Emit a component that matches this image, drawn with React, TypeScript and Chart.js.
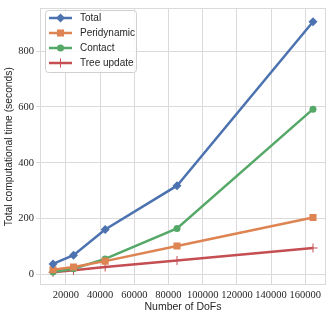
import React, { useEffect, useRef } from "react";
import { Chart, registerables } from "chart.js";

Chart.register(...registerables);

const dofs = [12500, 24500, 43000, 85000, 164500];
const totalTime = [38, 69, 161, 318, 905];
const peridynamicTime = [17, 27, 48, 102, 204];
const contactTime = [9, 21, 56, 165, 592];
const treeUpdateTime = [8, 15, 27, 50, 95];

const xTicks = [20000, 40000, 60000, 80000, 100000, 120000, 140000, 160000];
const yTicks = [0, 200, 400, 600, 800];

const seriesNames = ["Total", "Peridynamic", "Contact", "Tree update"];
const seriesColors = ["#4C72B0", "#DD8452", "#55A868", "#C44E52"];
const seriesMarkers = ["rectRot", "rect", "circle", "cross"];
const seriesRadius = [4.5, 5, 3.5, 4.5];

const xTitle = "Number of DoFs";
const yTitle = "Total computational time (seconds)";

const GRID = "#dadada";
const TEXT = "#262626";
const TICK_FONT = "'Liberation Serif', serif";
const SANS = "'Liberation Sans', sans-serif";

function drawMarker(ctx: CanvasRenderingContext2D, style: string, x: number, y: number, r: number, color: string) {
  ctx.save();
  ctx.fillStyle = color;
  ctx.strokeStyle = color;
  ctx.beginPath();
  if (style === "rectRot") {
    ctx.moveTo(x, y - r);
    ctx.lineTo(x + r, y);
    ctx.lineTo(x, y + r);
    ctx.lineTo(x - r, y);
    ctx.closePath();
    ctx.fill();
  } else if (style === "rect") {
    const s = r * Math.SQRT1_2;
    ctx.rect(x - s, y - s, 2 * s, 2 * s);
    ctx.fill();
  } else if (style === "circle") {
    ctx.arc(x, y, r, 0, Math.PI * 2);
    ctx.fill();
  } else {
    ctx.lineWidth = 1;
    ctx.moveTo(x - r, y);
    ctx.lineTo(x + r, y);
    ctx.moveTo(x, y - r);
    ctx.lineTo(x, y + r);
    ctx.stroke();
  }
  ctx.restore();
}

const framePlugin = {
  id: "frame",
  beforeDatasetsDraw(chart: any) {
    const { ctx, chartArea } = chart;
    const l = Math.round(chartArea.left) + 0.5;
    const t = Math.round(chartArea.top) + 0.5;
    const r = Math.round(chartArea.right) - 0.5;
    const b = Math.round(chartArea.bottom) - 0.5;
    ctx.save();
    ctx.strokeStyle = GRID;
    ctx.lineWidth = 1;
    ctx.strokeRect(l, t, r - l, b - t);
    ctx.restore();
  },
  afterDraw(chart: any) {
    const { ctx } = chart;
    const bx = 45.5, by = 10.5, bw = 91, bh = 62, rad = 3;
    ctx.save();
    ctx.beginPath();
    ctx.moveTo(bx + rad, by);
    ctx.lineTo(bx + bw - rad, by);
    ctx.quadraticCurveTo(bx + bw, by, bx + bw, by + rad);
    ctx.lineTo(bx + bw, by + bh - rad);
    ctx.quadraticCurveTo(bx + bw, by + bh, bx + bw - rad, by + bh);
    ctx.lineTo(bx + rad, by + bh);
    ctx.quadraticCurveTo(bx, by + bh, bx, by + bh - rad);
    ctx.lineTo(bx, by + rad);
    ctx.quadraticCurveTo(bx, by, bx + rad, by);
    ctx.closePath();
    ctx.fillStyle = "rgba(255,255,255,0.85)";
    ctx.fill();
    ctx.strokeStyle = "#d0d0d0";
    ctx.lineWidth = 1;
    ctx.stroke();
    ctx.font = `10px ${SANS}`;
    ctx.textBaseline = "middle";
    ctx.textAlign = "left";
    seriesNames.forEach((name, i) => {
      const y = 18 + i * 15;
      ctx.strokeStyle = seriesColors[i];
      ctx.lineWidth = 2.5;
      ctx.beginPath();
      ctx.moveTo(49, y);
      ctx.lineTo(72, y);
      ctx.stroke();
      drawMarker(ctx, seriesMarkers[i], 60.5, y, seriesRadius[i], seriesColors[i]);
      ctx.fillStyle = TEXT;
      ctx.fillText(name, 80, y + 0.5);
    });
    ctx.restore();
  },
};

export default function App() {
  const ref = useRef<HTMLCanvasElement | null>(null);
  useEffect(() => {
    if (!ref.current) return;
    const seriesData = [totalTime, peridynamicTime, contactTime, treeUpdateTime];
    const chart = new Chart(ref.current, {
      type: "line",
      data: {
        datasets: seriesNames.map((name, i) => ({
          label: name,
          data: dofs.map((x, j) => ({ x, y: seriesData[i][j] })),
          borderColor: seriesColors[i],
          backgroundColor: seriesColors[i],
          borderWidth: 2.5,
          pointStyle: seriesMarkers[i] as any,
          pointRadius: seriesRadius[i],
          pointBorderWidth: i === 3 ? 1 : 0,
          pointBorderColor: seriesColors[i],
          pointBackgroundColor: seriesColors[i],
          tension: 0,
          fill: false,
        })),
      },
      options: {
        animation: false,
        responsive: false,
        devicePixelRatio: 1,
        layout: { padding: { top: 4, right: 7, left: 0, bottom: 0 } },
        plugins: { legend: { display: false }, tooltip: { enabled: false } },
        scales: {
          x: {
            type: "linear",
            min: 4900,
            max: 172100,
            afterBuildTicks: (s: any) => { s.ticks = xTicks.map((v) => ({ value: v })); },
            afterFit: (s: any) => { s.height = 33; },
            grid: { color: GRID, lineWidth: 1, tickLength: 3, drawTicks: false },
            border: { display: false },
            ticks: {
              color: TEXT,
              padding: 4,
              maxRotation: 0,
              autoSkip: false,
              font: { family: TICK_FONT, size: 10.5 },
              callback: (v: any) => String(v),
            },
            title: {
              display: true,
              text: xTitle,
              color: TEXT,
              font: { family: SANS, size: 10.5 },
              padding: { top: 0, bottom: 5 },
            },
          },
          y: {
            type: "linear",
            min: -37.5,
            max: 953,
            afterBuildTicks: (s: any) => { s.ticks = yTicks.map((v) => ({ value: v })); },
            afterFit: (s: any) => { s.width = 40; },
            grid: { color: GRID, lineWidth: 1, tickLength: 4, drawTicks: true },
            border: { display: false },
            ticks: {
              color: TEXT,
              padding: 2,
              font: { family: TICK_FONT, size: 10.5 },
              callback: (v: any) => String(v),
            },
            title: {
              display: true,
              text: yTitle,
              color: TEXT,
              font: { family: SANS, size: 10.3 },
              padding: { top: 3, bottom: 0 },
            },
          },
        },
      },
      plugins: [framePlugin],
    });
    return () => chart.destroy();
  }, []);
  return (
    <div style={{ position: "fixed", left: 0, top: 0, width: 333, height: 318, background: "#fff" }}>
      <canvas ref={ref} width={333} height={318} style={{ width: 333, height: 318, display: "block" }} />
    </div>
  );
}
